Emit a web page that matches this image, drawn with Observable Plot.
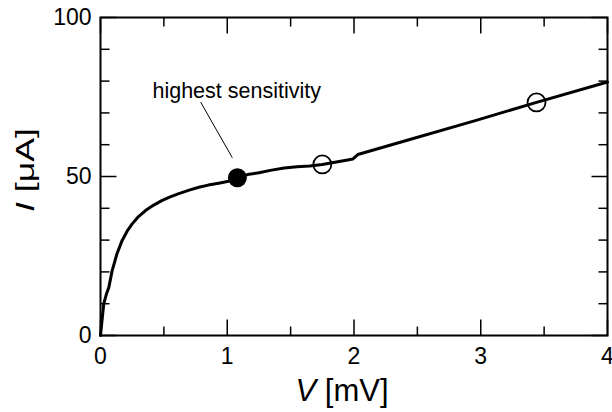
<!DOCTYPE html>
<html><head><meta charset="utf-8">
<script src="https://cdn.jsdelivr.net/npm/d3@7"></script>
<script src="https://cdn.jsdelivr.net/npm/@observablehq/plot@0.6"></script>
<style>body{margin:0;background:#fff} svg{display:block}</style>
</head><body><div id="chart"></div>
<script>
// I–V curve (V in mV, I in µA)
const voltage = [0, 0.01, 0.026, 0.045, 0.066, 0.092, 0.13, 0.171, 0.21, 0.25, 0.3, 0.355, 0.42, 0.487, 0.55, 0.618, 0.7, 0.776, 0.85, 0.933, 1.01, 1.078, 1.16, 1.25, 1.35, 1.45, 1.55, 1.65, 1.75, 1.85, 1.95, 1.99, 2.03, 2.42, 2.95, 3.44, 4.0];
const current = [0, 4, 10, 12.8, 15.2, 20.4, 25.7, 29.9, 32.8, 35.1, 37.4, 39.3, 41.0, 42.5, 43.6, 44.6, 45.7, 46.6, 47.3, 47.9, 48.5, 49.5, 50.6, 51.2, 52.0, 52.7, 53.1, 53.3, 53.8, 54.5, 55.2, 55.5, 56.9, 61.4, 67.5, 73.3, 79.7];

// markers
const filledV = [1.08];
const filledI = [49.6];
const openV = [1.75, 3.44];
const openI = [53.8, 73.3];

// ticks
const xMajor = [0, 1, 2, 3, 4];
const xMinor = [0.5, 1.5, 2.5, 3.5];
const yMajor = [0, 50, 100];
const yMinor = [10, 20, 30, 40, 60, 70, 80, 90];

// annotation
const noteText = ["highest sensitivity"];
const noteV = [0.41];
const noteI = [76.9];
const leaderV1 = [0.79], leaderI1 = [73.4], leaderV2 = [1.04], leaderI2 = [55.9];

const curve = voltage.map((v, i) => ({v, i: current[i]}));
const filled = filledV.map((v, k) => ({v, i: filledI[k]}));
const open = openV.map((v, k) => ({v, i: openI[k]}));
const note = noteText.map((t, k) => ({t, v: noteV[k], i: noteI[k]}));
const leader = leaderV1.map((v, k) => ({v1: v, i1: leaderI1[k], v2: leaderV2[k], i2: leaderI2[k]}));

const W = 612, H = 412, ML = 100, MR = 5, MT = 17, MB = 77;
const FW = W - ML - MR, FH = H - MT - MB;
const xDomain = [0, 4], yDomain = [0, 100];
// pixel length -> data length, so inward ticks have fixed pixel length
const pxX = (xDomain[1] - xDomain[0]) / FW;
const pxY = (yDomain[1] - yDomain[0]) / FH;
const MAJOR = 16, MINOR = 9;

const xTickData = [...xMajor.map(v => ({v, len: MAJOR})), ...xMinor.map(v => ({v, len: MINOR}))];
const yTickData = [...yMajor.map(v => ({v, len: MAJOR})), ...yMinor.map(v => ({v, len: MINOR}))];
const tickStyle = {stroke: "black", strokeWidth: 1.5};

const font = "'Liberation Sans', Arial, Helvetica, sans-serif";

const plot = Plot.plot({
  width: W, height: H,
  marginLeft: ML, marginRight: MR, marginTop: MT, marginBottom: MB,
  style: {fontFamily: font, background: "#fff", color: "#000", overflow: "visible"},
  x: {domain: xDomain},
  y: {domain: yDomain},
  marks: [
    Plot.axisX(xMajor, {tickSize: 0, tickPadding: 12, fontSize: 23, label: null, tickFormat: d3.format("d")}),
    Plot.axisY(yMajor, {tickSize: 0, tickPadding: 9, fontSize: 23, label: null, tickFormat: d3.format("d")}),
    // inward ticks: bottom, top, left, right
    Plot.link(xTickData, {x1: "v", x2: "v", y1: () => yDomain[0], y2: d => yDomain[0] + d.len * pxY, ...tickStyle}),
    Plot.link(xTickData, {x1: "v", x2: "v", y1: () => yDomain[1], y2: d => yDomain[1] - d.len * pxY, ...tickStyle}),
    Plot.link(yTickData, {y1: "v", y2: "v", x1: () => xDomain[0], x2: d => xDomain[0] + d.len * pxX, ...tickStyle}),
    Plot.link(yTickData, {y1: "v", y2: "v", x1: () => xDomain[1], x2: d => xDomain[1] - d.len * pxX, ...tickStyle}),
    Plot.line(curve, {x: "v", y: "i", stroke: "black", strokeWidth: 3, strokeLinejoin: "round", strokeLinecap: "round"}),
    Plot.link(leader, {x1: "v1", y1: "i1", x2: "v2", y2: "i2", stroke: "black", strokeWidth: 1}),
    Plot.dot(filled, {x: "v", y: "i", r: 9.5, fill: "black", stroke: "none"}),
    Plot.dot(open, {x: "v", y: "i", r: 9, fill: "none", stroke: "black", strokeWidth: 1.8}),
    Plot.text(note, {x: "v", y: "i", text: "t", textAnchor: "start", lineAnchor: "middle", fontSize: 21.5, fill: "black"}),
    Plot.frame({stroke: "black", strokeWidth: 2})
  ]
});

const svg = d3.select(plot);
// y-axis label: italic I [µA]
const yl = svg.append("text")
  .attr("transform", "translate(34,170) rotate(-90)")
  .attr("text-anchor", "middle")
  .attr("font-family", font)
  .attr("font-size", 25)
  .attr("fill", "black")
  .attr("textLength", 84)
  .attr("lengthAdjust", "spacingAndGlyphs");
yl.append("tspan").attr("font-style", "italic").text("I");
yl.append("tspan").text(" [\u03BCA]");
// x-axis label: italic V [mV]
const xl = svg.append("text")
  .attr("x", 342).attr("y", 401)
  .attr("text-anchor", "middle")
  .attr("font-family", font)
  .attr("font-size", 31)
  .attr("fill", "black");
xl.append("tspan").attr("font-style", "italic").text("V");
xl.append("tspan").text(" [mV]");

document.getElementById("chart").append(plot);
</script>
</body></html>
